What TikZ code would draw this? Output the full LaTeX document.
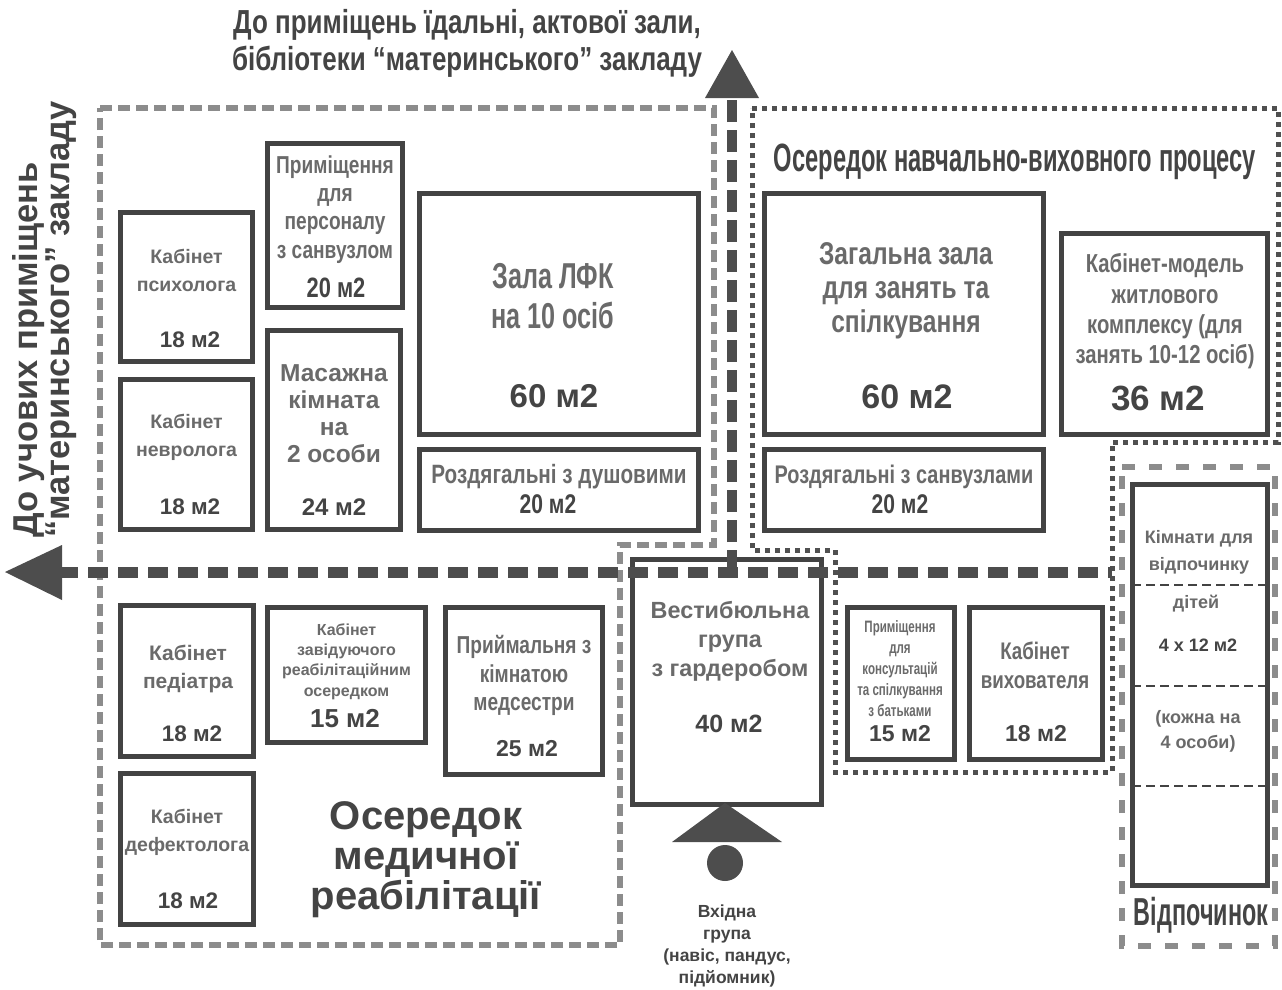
\documentclass[tikz,border=0pt]{standalone}
\usepackage{fontspec}
\setmainfont{Liberation Sans}
\newfontfamily\fa{Liberation Sans}
\newfontfamily\fsl[FakeStretch=0.6]{Liberation Sans}
\newfontfamily\fnar[FakeStretch=0.7]{Liberation Sans}
\newfontfamily\fbet[FakeStretch=0.78]{Liberation Sans}
\newfontfamily\fmid[FakeStretch=0.85]{Liberation Sans}
\newcommand\fA[2]{\fa\bfseries\fontsize{#1}{#2}\selectfont}
\newcommand\fS[2]{\fsl\bfseries\fontsize{#1}{#2}\selectfont}
\newcommand\fN[2]{\fnar\bfseries\fontsize{#1}{#2}\selectfont}
\newcommand\fB[2]{\fbet\bfseries\fontsize{#1}{#2}\selectfont}
\newcommand\fM[2]{\fmid\bfseries\fontsize{#1}{#2}\selectfont}
\definecolor{boxc}{HTML}{434343}
\definecolor{lblc}{HTML}{6A6A6A}
\definecolor{numc}{HTML}{444444}
\definecolor{gdc}{HTML}{8C8C8C}
\definecolor{darkc}{HTML}{4D4D4D}
\definecolor{dotc}{HTML}{505050}
\tikzset{
  room/.style={draw=boxc, line width=5pt, inner sep=0pt, fill=white},
  lbl/.style={text=lblc, align=center, inner sep=0pt},
  num/.style={text=numc, align=center, inner sep=0pt},
  ttl/.style={text=numc, align=center, inner sep=0pt},
  gzone/.style={draw=gdc, line width=6pt, dash pattern=on 12pt off 6pt},
  gzoneB/.style={draw=gdc, line width=6pt, dash pattern=on 13pt off 14pt},
  dzone/.style={draw=dotc, line width=5pt, dash pattern=on 5pt off 5pt},
  corrH/.style={draw=darkc, line width=11pt, dash pattern=on 20pt off 10pt},
  corrV/.style={draw=darkc, line width=10pt, dash pattern=on 22pt off 8pt},
  divline/.style={draw=boxc, line width=2.5pt, dash pattern=on 9pt off 5pt},
  tip/.style={fill=darkc, draw=none}
}
\begin{document}
\begin{tikzpicture}[x=1pt,y=-1pt]
\useasboundingbox (0,0) rectangle (1282,989);
% zones
\draw[gzone] (100,108) -- (714,108) -- (714,545) -- (620,545) -- (620,945) -- (100,945) -- cycle;
\draw[dzone] (752,108) -- (1278,108) -- (1278,442) -- (1112,442) -- (1112,772) -- (835,772) -- (835,550) -- (752,550) -- cycle;
\draw[gzoneB] (1122,467) -- (1275,467) -- (1275,946) -- (1122,946) -- cycle;

% rooms
\node[room, minimum width=132pt, minimum height=149pt] (psy) at (186.5,287) {};
\node[room, minimum width=132pt, minimum height=150pt] (neu) at (186.5,454.5) {};
\node[room, minimum width=135pt, minimum height=164pt] (stf) at (335,225.5) {};
\node[room, minimum width=133pt, minimum height=199pt] (mas) at (334,430) {};
\node[room, minimum width=279pt, minimum height=241pt] (lfk) at (559,314) {};
\node[room, minimum width=279pt, minimum height=81pt] (rz1) at (559,490) {};
\node[room, minimum width=279pt, minimum height=241pt] (zag) at (904,314) {};
\node[room, minimum width=206pt, minimum height=201pt] (mod) at (1164.5,334) {};
\node[room, minimum width=279pt, minimum height=81pt] (rz2) at (904,490) {};
\node[room, minimum width=133pt, minimum height=151pt] (ped) at (187,681) {};
\node[room, minimum width=133pt, minimum height=151pt] (def) at (187,849) {};
\node[room, minimum width=158pt, minimum height=135pt] (zav) at (346.5,675) {};
\node[room, minimum width=157pt, minimum height=167pt] (prm) at (524,691) {};
\node[room, minimum width=189pt, minimum height=245pt] (vst) at (727,682) {};
\node[room, minimum width=107pt, minimum height=152pt] (kns) at (901,683.5) {};
\node[room, minimum width=133pt, minimum height=152pt] (vkh) at (1036,683.5) {};
\node[room, minimum width=135pt, minimum height=401pt] (rst) at (1200,685) {};
\coordinate (rstL1) at (1132,585); \coordinate (rstR1) at (1268,585);
\coordinate (rstL2) at (1132,686); \coordinate (rstR2) at (1268,686);
\coordinate (rstL3) at (1132,786); \coordinate (rstR3) at (1268,786);
\draw[divline] (rstL1) -- (rstR1);
\draw[divline] (rstL2) -- (rstR2);
\draw[divline] (rstL3) -- (rstR3);

% corridors
\coordinate (jn) at (732,572);
\coordinate (eastEnd) at (1112,572);
\coordinate (westBase) at (58,572);
\coordinate (westTip) at (5,572);
\coordinate (northBase) at (732,96);
\coordinate (northTip) at (732,50);
\draw[corrH] (westBase) -- (eastEnd);
\draw[corrV] (jn) -- (northBase);
\fill[tip] (westTip) -- (62,545) -- (62,600) -- cycle;
\fill[tip] (northTip) -- (705,98) -- (759,98) -- cycle;

% entrance
\coordinate (entTop) at (725,803);
\fill[tip] (entTop) -- (782,842) -- (672,842) -- cycle;
\node[circle, fill=darkc, minimum size=36pt, inner sep=0pt] (entDot) at (725,863) {};
\node[ttl, font=\fA{17.5}{22.3}] (entTxt) at (727,946) {Вхідна\\група\\(навіс, пандус,\\підйомник)};

% headings
\node[ttl, font=\fB{33.3}{37}] (topTxt) at (467,43) {До приміщень їдальні, актової зали,\\бібліотеки “материнського” закладу};
\node[ttl, font=\fA{34.5}{29}, rotate=90, anchor=north west, align=left] (leftTxt) at (12,538) {До учових приміщень\\“материнського” закладу};
\node[ttl, font=\fS{39.5}{40}] (eduTtl) at (1015,162) {Осередок навчально-виховного процесу};
\node[ttl, font=\fA{40}{40}] (medTtl) at (426,860) {Осередок\\медичної\\реабілітації};
\node[ttl, font=\fS{39}{39}] (restTtl) at (1201,915) {Відпочинок};

% labels
\node[lbl, font=\fA{19.5}{28}] (psyL) at (186.5,270) {Кабінет\\психолога};
\node[num, font=\fA{22.5}{24}] (psyN) at (190,340) {18 м2};
\node[lbl, font=\fA{19.5}{28}] (neuL) at (186.5,437.5) {Кабінет\\невролога};
\node[num, font=\fA{22.5}{24}] (neuN) at (190,507) {18 м2};
\node[lbl, font=\fB{24.5}{28.3}] (stfL) at (335,209.5) {Приміщення\\для\\персоналу\\з санвузлом};
\node[num, font=\fB{28}{24}] (stfN) at (336,288) {20 м2};
\node[lbl, font=\fA{24.5}{27}] (masL) at (334,413.5) {Масажна\\кімната\\на\\2 особи};
\node[num, font=\fA{24}{24}] (masN) at (334,507) {24 м2};
\node[lbl, font=\fN{36}{40}] (lfkL) at (553,296) {Зала ЛФК\\на 10 осіб};
\node[num, font=\fA{33}{30}] (lfkN) at (554,396) {60 м2};
\node[lbl, font=\fB{26.5}{27}] (rz1L) at (559,477) {Роздягальні з душовими};
\node[num, font=\fB{27}{24}] (rz1N) at (548,504) {20 м2};
\node[lbl, font=\fB{31.5}{34}] (zagL) at (906,291) {Загальна зала\\для занять та\\спілкування};
\node[num, font=\fA{34}{30}] (zagN) at (907,397) {60 м2};
\node[lbl, font=\fB{26}{30.3}] (modL) at (1165,311.5) {Кабінет-модель\\житлового\\комплексу (для\\занять 10-12 осіб)};
\node[num, font=\fA{35}{31}] (modN) at (1158,398) {36 м2};
\node[lbl, font=\fB{25.5}{27}] (rz2L) at (904,477) {Роздягальні з санвузлами};
\node[num, font=\fB{27}{24}] (rz2N) at (900,504) {20 м2};
\node[lbl, font=\fA{21}{28}] (pedL) at (188,669) {Кабінет\\педіатра};
\node[num, font=\fA{22.5}{24}] (pedN) at (192,734) {18 м2};
\node[lbl, font=\fA{19.5}{28}] (defL) at (187,832) {Кабінет\\дефектолога};
\node[num, font=\fA{22.5}{24}] (defN) at (188,901) {18 м2};
\node[lbl, font=\fA{16}{20.3}] (zavL) at (346.5,661.5) {Кабінет\\завідуючого\\реабілітаційним\\осередком};
\node[num, font=\fA{26}{24}] (zavN) at (345,719) {15 м2};
\node[lbl, font=\fB{24.5}{28.5}] (prmL) at (524,675.5) {Приймальня з\\кімнатою\\медсестри};
\node[num, font=\fA{23}{24}] (prmN) at (527,749) {25 м2};
\node[lbl, font=\fA{23.4}{29}] (vstL) at (730,641) {Вестибюльна\\група\\з гардеробом};
\node[num, font=\fA{25}{24}] (vstN) at (729,724) {40 м2};
\node[lbl, font=\fN{16.5}{21.2}] (knsL) at (900,668.5) {Приміщення\\для\\консультацій\\та спілкування\\з батьками};
\node[num, font=\fA{23}{24}] (knsN) at (900,734) {15 м2};
\node[lbl, font=\fB{24}{29}] (vkhL) at (1035,665.5) {Кабінет\\вихователя};
\node[num, font=\fA{23}{24}] (vkhN) at (1036,734) {18 м2};
\node[lbl, font=\fA{18}{27}] (rstL) at (1199,552.5) {Кімнати для\\відпочинку};
\node[lbl, font=\fA{18}{24}] (rstL2) at (1196,604) {дітей};
\node[num, font=\fA{18}{24}] (rstN) at (1198,645) {4 x 12 м2};
\node[lbl, font=\fA{18}{25}] (rstL3) at (1198,731) {(кожна на\\4 особи)};
\end{tikzpicture}
\end{document}
